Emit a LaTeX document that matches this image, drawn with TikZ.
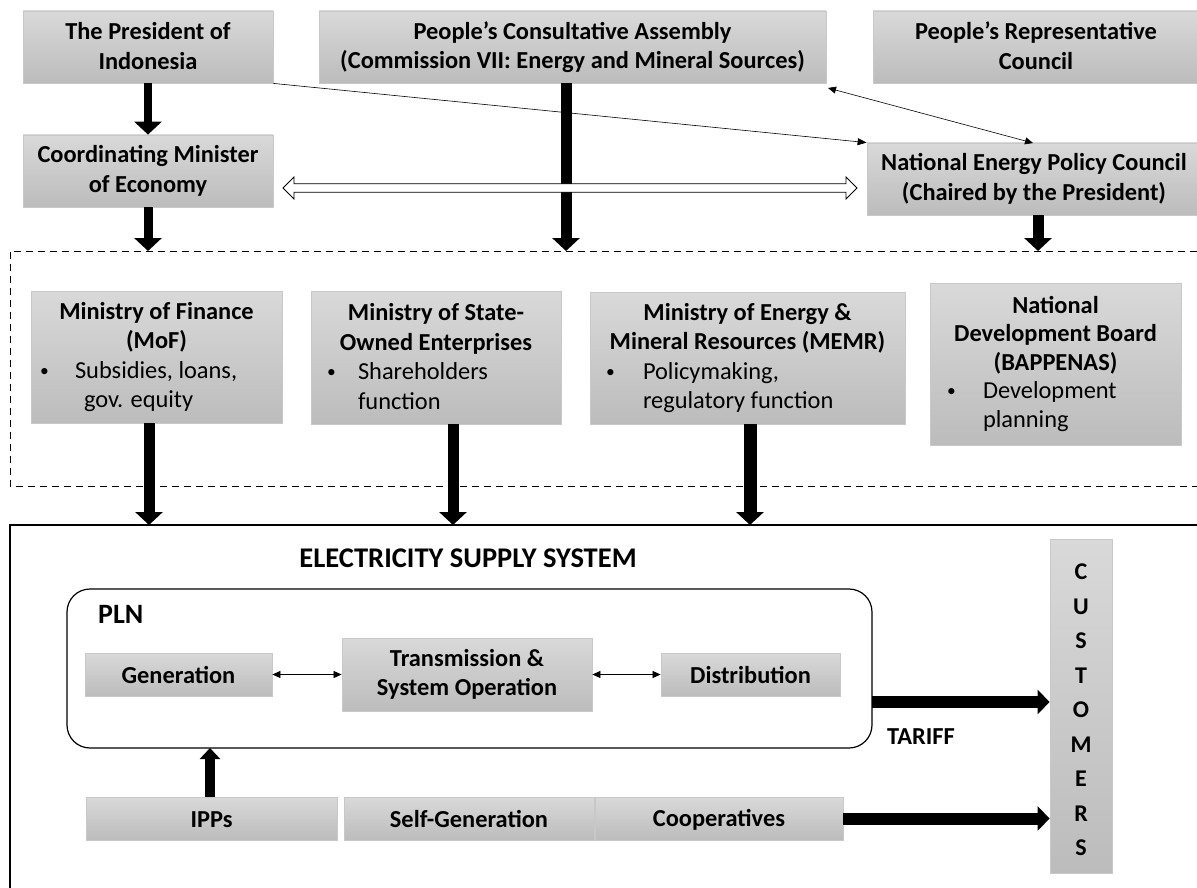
\documentclass[tikz,border=0pt]{standalone}
\usepackage{fontspec}
\setmainfont{Carlito}
\usetikzlibrary{arrows.meta,calc}

\definecolor{boxtop}{RGB}{217,217,217}
\definecolor{boxbot}{RGB}{188,188,188}
\definecolor{boxline}{RGB}{200,200,200}

\newcommand\fs{\fontsize{24.4}{29.5}\selectfont}
\newcommand\tstrut{\rule{0pt}{20pt}}
\newcommand\bstrut{\rule[-2.6pt]{0pt}{2.6pt}}
\newcommand\bul{\raisebox{2pt}{\fontsize{17.5}{17.5}\selectfont\mdseries•}}
% bullet line: width, bullet offset, text offset, text
\newcommand\bl[4]{\makebox[#1][l]{\hspace*{#2}\makebox[0pt][l]{\bul}\hspace*{\dimexpr#3-#2\relax}\mdseries #4}}
% continuation line: width, text offset, text
\newcommand\cl[3]{\makebox[#1][l]{\hspace*{#2}\mdseries #3}}

\begin{document}
\begin{tikzpicture}[x=1pt,y=-1pt,
  gbox/.style={draw=boxline, line width=0.8pt, top color=boxtop, bottom color=boxbot,
               inner sep=0pt, align=center, font=\fs\bfseries,
               execute at begin node=\tstrut, execute at end node=\bstrut},
  plainbox/.style={draw=boxline, line width=0.8pt, top color=boxtop, bottom color=boxbot, inner sep=0pt},
  tarrow/.style={line width=10pt, -{Triangle[width=27pt,length=13pt]}},
  thin/.style={line width=0.6pt, -{Triangle[width=7pt,length=9pt]}},
  thinboth/.style={line width=0.6pt, {Triangle[width=7pt,length=8pt]}-{Triangle[width=7pt,length=8pt]}},
  lbl/.style={font=\fs\bfseries, inner sep=0pt}
]
\useasboundingbox (0,0) rectangle (1197,888);

% frames
\draw[line width=0.8pt, dash pattern=on 7pt off 5pt] (1197,251) -- (10,251) -- (10,486) -- (1197,486);
\draw[line width=1.2pt] (1197,525) -- (10,525) -- (10,888);

% top row
\node[gbox, minimum width=250, minimum height=72] (pres) at (148,47) {The President of\\Indonesia};
\node[gbox, minimum width=507, minimum height=72] (pca) at (572.5,47) {People’s Consultative Assembly\\(Commission VII: Energy and Mineral Sources)};
\node[gbox, minimum width=326, minimum height=72] (prc) at (1036,47) {People’s Representative\\Council};
\node[gbox, minimum width=250, minimum height=72] (cme) at (148,171) {Coordinating Minister\\of Economy};
\node[gbox, minimum width=334, minimum height=72] (nepc) at (1034,179) {National Energy Policy Council\\(Chaired by the President)};

% ministries
\node[gbox, minimum width=251, minimum height=132] (mof) at (156.5,357)
  {Ministry of Finance\\(MoF)\\\bl{251pt}{9pt}{44pt}{Subsidies, loans,}\\\cl{251pt}{53pt}{gov. equity}};
\node[gbox, minimum width=250, minimum height=133] (soe) at (436,357.5)
  {Ministry of State-\\Owned Enterprises\\\bl{250pt}{16pt}{47pt}{Shareholders}\\\cl{250pt}{47pt}{function}};
\node[gbox, minimum width=315, minimum height=132] (memr) at (747.5,358)
  {Ministry of Energy \&\\Mineral Resources (MEMR)\\\bl{315pt}{16pt}{53pt}{Policymaking,}\\\cl{315pt}{53pt}{regulatory function}};
\node[gbox, minimum width=251, minimum height=162, font=\fontsize{24.4}{28.5}\selectfont\bfseries] (bap) at (1055.5,364)
  {National\\Development Board\\(BAPPENAS)\\\bl{251pt}{17pt}{53pt}{Development}\\\cl{251pt}{53pt}{planning}};

% electricity supply system
\node[lbl, font=\fontsize{28.5}{34}\selectfont\bfseries] (ess) at (468,558) {ELECTRICITY SUPPLY SYSTEM};
\node[draw, line width=1.2pt, rounded corners=23pt, minimum width=805, minimum height=159] (pln) at (469.5,668.5) {};
\node[lbl, anchor=west, font=\fontsize{28}{34}\selectfont\bfseries] (plnl) at (98,614) {PLN};
\node[gbox, minimum width=187, minimum height=43] (gen) at (178.5,674.5) {Generation};
\node[gbox, minimum width=250, minimum height=73] (trans) at (467,674.5) {Transmission \&\\System Operation};
\node[gbox, minimum width=179, minimum height=43] (dist) at (750.5,674.5) {Distribution};
\node[gbox, minimum width=251, minimum height=43] (ipp) at (211.5,818.5) {IPPs};
\node[gbox, minimum width=250, minimum height=43] (selfg) at (469,818.5) {Self-Generation};
\node[gbox, minimum width=248, minimum height=43] (coop) at (719,818.5) {Cooperatives};
\node[plainbox, minimum width=62, minimum height=334] (cust) at (1081,706) {};
\node[lbl, align=center, font=\fontsize{24}{34.5}\selectfont\bfseries] (custl) at (1081,710)
  {C\\U\\S\\T\\O\\M\\E\\R\\S};
\node[lbl] (tariff) at (921,737) {TARIFF};

% coordinates for free ends
\coordinate (d1) at (148,251);
\coordinate (d2) at (566,251);
\coordinate (d3) at (1038,251);
\coordinate (s1) at (149,525);
\coordinate (s2) at (453,525);
\coordinate (s3) at (750,525);
\coordinate (p2) at (828,88);
\coordinate (n2) at (1033,143);
\coordinate (ha) at (283,188);
\coordinate (hb) at (857,188);
\coordinate (t1) at (872,702);
\coordinate (ipa) at (210,748);

% thick arrows
\draw[tarrow, line width=8pt] (pres.south) -- (cme.north);
\draw[tarrow, line width=9pt] (cme.south) -- (d1);
\draw[tarrow, line width=11pt] (pca.south -| d2) -- (d2);
\draw[tarrow, line width=11pt] (nepc.south -| d3) -- (d3);
\draw[tarrow, line width=11pt] (mof.south -| s1) -- (s1);
\draw[tarrow, line width=11pt] (soe.south -| s2) -- (s2);
\draw[tarrow, line width=13pt] (memr.south -| s3) -- (s3);
\draw[line width=10pt, -{Triangle[width=20pt,length=11pt]}] (ipp.north -| ipa) -- (ipa);
\draw[line width=12pt, -{Triangle[width=24pt,length=12pt]}] (t1) -- (cust.west |- t1);
\draw[line width=12pt, -{Triangle[width=24pt,length=12pt]}] (coop.east) -- (cust.west |- coop.east);

% thin arrows
\draw[thin] (pres.south east) -- (nepc.north west);
\draw[thinboth] (p2) -- (n2);
\draw[thinboth] (gen.east) -- (trans.west);
\draw[thinboth] (trans.east) -- (dist.west);

% hollow double arrow
\draw[fill=white, line width=0.8pt] (ha) -- ($(ha)+(11,-11)$) -- ($(ha)+(11,-4.2)$) -- ($(hb)+(-11,-4.2)$)
  -- ($(hb)+(-11,-11)$) -- (hb) -- ($(hb)+(-11,11)$) -- ($(hb)+(-11,4.2)$) -- ($(ha)+(11,4.2)$)
  -- ($(ha)+(11,11)$) -- cycle;
\end{tikzpicture}
\end{document}
